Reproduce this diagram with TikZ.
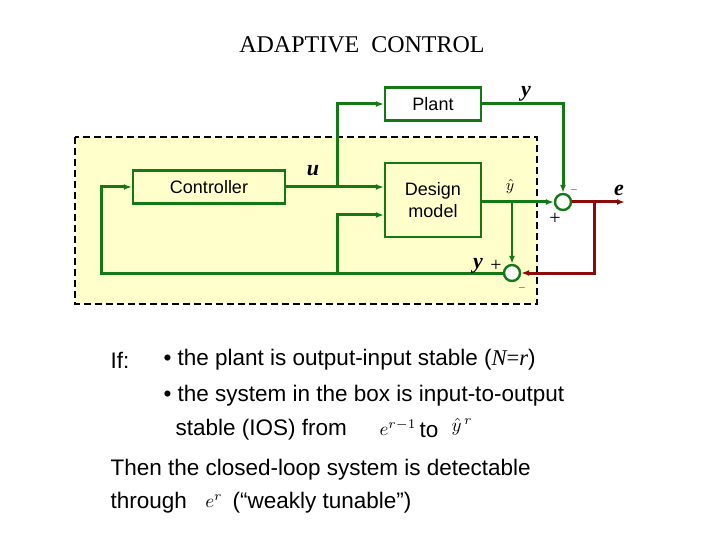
\documentclass[tikz,border=0pt]{standalone}
\usepackage{fontspec}
\usepackage{graphicx}
\setmainfont{Liberation Sans}
\newfontfamily\serif{Liberation Serif}
\usetikzlibrary{arrows.meta}
\definecolor{gr}{RGB}{20,120,20}
\definecolor{dr}{RGB}{140,10,10}
\definecolor{bg}{RGB}{255,255,204}
\begin{document}
\begin{tikzpicture}[x=1pt,y=-1pt,
 blk/.style={draw=gr,line width=2.4pt,fill=bg,font=\fontsize{18}{22}\selectfont,align=center,inner sep=0},
 sig/.style={draw=gr,line width=3pt,-{Latex[length=8pt,width=6pt]}},
 red/.style={draw=dr,line width=3pt},
 sm/.style={circle,draw=gr,line width=2.4pt,fill=white,minimum size=16pt,inner sep=0},
 lbl/.style={font=\fontsize{22}{24}\selectfont\serif\itshape\bfseries},
 mth/.style={font=\serif},
 txt/.style={font=\fontsize{22.5}{25}\selectfont,anchor=west}]
\useasboundingbox (0,0) rectangle (720,540);
\node[font=\fontsize{24}{26}\selectfont\serif] (title) at (362,45) {ADAPTIVE\ \ CONTROL};
\draw[dashed,line width=2.6pt,dash pattern=on 7pt off 4pt,fill=bg] (75,137) rectangle (537,304);
\node[blk,minimum width=96pt,minimum height=33pt,fill=white] (plant) at (433,104) {Plant};
\node[blk,minimum width=152pt,minimum height=33pt] (ctrl) at (209,187) {Controller};
\node[blk,minimum width=96pt,minimum height=74pt] (dm) at (433,200) {Design\\model};
\node[sm] (s1) at (563,202) {};
\node[sm] (s2) at (512,273) {};
\coordinate (u) at (337,187);
\coordinate (b) at (337,273);
\coordinate (yh) at (512,202);
\coordinate (rb) at (594,202);
\coordinate (eo) at (625,202);
\draw[sig] (ctrl.east) -- (u) -- (dm.west|-u);
\draw[sig] (u) |- (plant.west);
\draw[sig] (plant.east) -| (s1.north);
\draw[sig] (dm.east|-yh) -- (s1.west);
\draw[sig,line width=2pt] (yh) -- (s2.north);
\draw[draw=gr,line width=3pt] (s2.west) -- (b);
\draw[sig] (b) |- (dm.west|-0,215);
\draw[sig] (b) -- (101,273) |- (ctrl.west);
\draw[red,-{Latex[length=8pt,width=6pt]}] (s1.east) -- (eo);
\draw[red,-{Latex[length=8pt,width=6pt]}] (rb) |- (s2.east);
\node[lbl] (ul) at (313,171) {u};
\node[lbl] (yl) at (526,94) {y};
\node (yhl) at (510,187) {\scalebox{1.6}{$\hat y$}};
\node[lbl] (el) at (619,190) {e};
\node[lbl] (yl2) at (478,266) {y};
\node[font=\fontsize{20}{20}\selectfont\serif] (p1) at (555,219) {+};
\node (m1) at (574,190) {$-$};
\node[font=\fontsize{20}{20}\selectfont\serif] (p2) at (496,266) {+};
\node (m2) at (522,288) {$-$};
\node[txt] (if) at (107,360) {If:};
\node[txt] (l1) at (160,360) {\textbullet\ the plant is output-input stable ({\serif\itshape N}{\serif=}{\serif\itshape r})};
\node[txt] (l2) at (160,396) {\textbullet\ the system in the box is input-to-output};
\node[txt] (l3) at (172,430) {stable (IOS) from};
\node (er1) at (398,428) {\scalebox{1.9}{$e^{r-1}$}};
\node[txt] (to) at (416,430) {to};
\node (yr) at (462,427) {\scalebox{1.9}{$\hat y^{\,r}$}};
\node[txt] (l4) at (107,470) {Then the closed-loop system is detectable};
\node[txt] (l5) at (107,503) {through};
\node (er) at (214,501) {\scalebox{1.9}{$e^{r}$}};
\node[txt] (l6) at (229,503) {(“weakly tunable”)};
\end{tikzpicture}
\end{document}
